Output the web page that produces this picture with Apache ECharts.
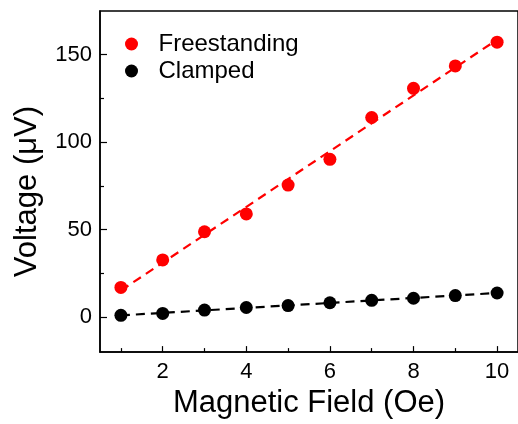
<!DOCTYPE html>
<html>
<head>
<meta charset="utf-8">
<script src="https://cdn.jsdelivr.net/npm/echarts@6/dist/echarts.min.js"></script>
<style>
html,body{margin:0;padding:0;background:#fff;}
#chart{width:518px;height:424px;}
</style>
</head>
<body>
<div id="chart"></div>
<script>
// Data
const fieldOe = [1, 2, 3, 4, 5, 6, 7, 8, 9, 10];
const freestanding = [17, 32.7, 48.8, 59, 75.5, 90.2, 114.1, 130.8, 143.6, 157.2];
const clamped = [1, 2.1, 4, 5.5, 6.6, 8.2, 9.6, 10.8, 12.3, 13.8];
// linear-fit guide lines (end points)
const fitX = [1, 10];
const fitFree = [15.2, 158.6];
const fitClamp = [1.0, 13.8];
// tick labels / positions
const xMajor = [2, 4, 6, 8, 10];
const xMinor = [1, 3, 5, 7, 9];
const yMajor = [0, 50, 100, 150];
const yMinor = [25, 75, 125];

const FONT = 'Arial, "Liberation Sans", sans-serif';
const pairs = (xs, ys) => xs.map((x, i) => [x, ys[i]]);

const chart = echarts.init(document.getElementById('chart'), null, {renderer: 'canvas'});
const axisCommon = {
  type: 'value',
  splitLine: {show: false},
};
chart.setOption({
  animation: false,
  backgroundColor: '#fff',
  grid: {left: 100, top: 11, width: 425, height: 344, show: true, borderColor: '#000', borderWidth: 1.5, backgroundColor: 'transparent'},
  legend: {
    orient: 'vertical', left: 120, top: 27, itemWidth: 44, itemHeight: 13, itemGap: 3,
    data: ['Freestanding', 'Clamped'],
    textStyle: {fontFamily: FONT, fontSize: 24, color: '#000', lineHeight: 24}
  },
  xAxis: [
    Object.assign({}, axisCommon, {
      min: 0.5, max: 10.5,
      name: 'Magnetic Field (Oe)', nameLocation: 'middle', nameGap: 34,
      nameTextStyle: {fontFamily: FONT, fontSize: 31, color: '#000'},
      axisLine: {show: true, onZero: false, lineStyle: {color: '#000', width: 1.5}},
      axisTick: {show: true, inside: true, length: 6, customValues: xMajor, lineStyle: {color: '#000', width: 1.2}},
      axisLabel: {show: true, customValues: xMajor, margin: 9, fontFamily: FONT, fontSize: 22, color: '#000'}
    }),
    Object.assign({}, axisCommon, {
      min: 0.5, max: 10.5, position: 'bottom', offset: 0,
      axisLine: {show: false, onZero: false},
      axisTick: {show: true, inside: true, length: 4, customValues: xMinor, lineStyle: {color: '#000', width: 1.2}},
      axisLabel: {show: false}
    })
  ],
  yAxis: [
    Object.assign({}, axisCommon, {
      min: -20, max: 175,
      name: 'Voltage (\u03BCV)', nameLocation: 'middle', nameGap: 57,
      nameTextStyle: {fontFamily: FONT, fontSize: 31, color: '#000', padding: [0, 20, 0, 0]},
      axisLine: {show: true, onZero: false, lineStyle: {color: '#000', width: 1.5}},
      axisTick: {show: true, inside: true, length: 7, customValues: yMajor, lineStyle: {color: '#000', width: 1.2}},
      axisLabel: {show: true, customValues: yMajor, margin: 8, fontFamily: FONT, fontSize: 22, color: '#000'}
    }),
    Object.assign({}, axisCommon, {
      min: -20, max: 175, position: 'left', offset: 0,
      axisLine: {show: false, onZero: false},
      axisTick: {show: true, inside: true, length: 4, customValues: yMinor, lineStyle: {color: '#000', width: 1.2}},
      axisLabel: {show: false}
    })
  ],
  series: [
    {name: 'fitFree', type: 'line', data: pairs(fitX, fitFree), symbol: 'none', z: 1,
     lineStyle: {color: '#ff0000', width: 2.2, type: [9, 6]}, silent: true},
    {name: 'fitClamp', type: 'line', data: pairs(fitX, fitClamp), symbol: 'none', z: 1,
     lineStyle: {color: '#000', width: 2.2, type: [9, 6]}, silent: true},
    {name: 'Freestanding', type: 'scatter', data: pairs(fieldOe, freestanding), symbol: 'circle', symbolSize: 13, z: 3,
     itemStyle: {color: '#ff0000', opacity: 1}},
    {name: 'Clamped', type: 'scatter', data: pairs(fieldOe, clamped), symbol: 'circle', symbolSize: 13, z: 3,
     itemStyle: {color: '#000', opacity: 1}}
  ]
});
</script>
</body>
</html>
